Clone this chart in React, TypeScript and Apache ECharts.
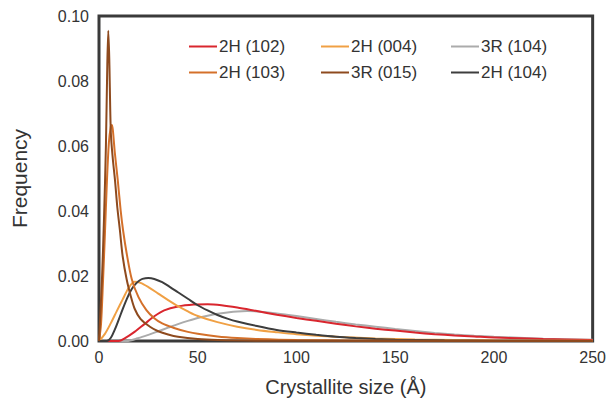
import React, { useEffect, useRef } from "react";
import * as echarts from "echarts";

// Crystallite size distributions: [size (Å), frequency] per reflection
const dist2H102: [number, number][] = [
  [0, 0], [10, 0], [13, 0.0008], [18, 0.0028], [23, 0.0052], [28, 0.0076], [33, 0.0094],
  [40, 0.0106], [48, 0.0112], [55, 0.0113], [62, 0.0110], [70, 0.0103], [80, 0.0092],
  [90, 0.0081], [100, 0.0071], [110, 0.0062], [120, 0.0053], [130, 0.0045], [140, 0.0038],
  [150, 0.0032], [160, 0.0026], [170, 0.0021], [180, 0.0017], [190, 0.0014], [200, 0.0011],
  [225, 0.0006], [250, 0.0003],
];

const dist2H004: [number, number][] = [
  [0, 0], [3, 0.0022], [6, 0.0055], [9, 0.0092], [12, 0.0128], [15, 0.0163], [18, 0.0182],
  [21, 0.0179], [25, 0.0166], [30, 0.0146], [35, 0.0126], [40, 0.0107], [45, 0.0091],
  [50, 0.0077], [60, 0.0058], [70, 0.0044], [80, 0.0034], [90, 0.0027], [100, 0.0021],
  [120, 0.0013], [140, 0.0008], [160, 0.0005], [200, 0.0002], [250, 0.0001],
];

const dist3R104: [number, number][] = [
  [0, 0], [14, 0], [20, 0.0009], [25, 0.0019], [30, 0.0030], [35, 0.0041], [40, 0.0052],
  [45, 0.0062], [50, 0.0071], [55, 0.0078], [60, 0.0084], [65, 0.0088], [70, 0.0091],
  [75, 0.0092], [80, 0.0091], [90, 0.0085], [100, 0.0077], [110, 0.0068], [120, 0.0059],
  [130, 0.0051], [140, 0.0044], [150, 0.0037], [160, 0.0031], [170, 0.0025], [180, 0.0020],
  [190, 0.0016], [200, 0.0013], [225, 0.0007], [250, 0.0004],
];

const dist2H103: [number, number][] = [
  [0, 0], [1, 0.005], [2, 0.018], [3, 0.033], [4, 0.049], [5, 0.061], [6, 0.066], [6.5, 0.0665],
  [7, 0.065], [8, 0.058], [9.5, 0.0495], [11, 0.040], [12.2, 0.034], [14, 0.027], [16.6, 0.019],
  [20, 0.0135], [24, 0.0095], [28, 0.0070], [32, 0.0054], [38, 0.0040], [45, 0.0028],
  [50, 0.0022], [60, 0.0014], [70, 0.0009], [80, 0.0006], [100, 0.0003], [150, 0.0001],
  [250, 0],
];

const dist3R015: [number, number][] = [
  [0, 0], [1.5, 0.019], [2.5, 0.037], [3.5, 0.060], [4.2, 0.085], [4.7, 0.0955], [5.2, 0.087],
  [6, 0.064], [7, 0.056], [8.1, 0.0495], [9.3, 0.041], [10.6, 0.034], [12, 0.026], [14, 0.019],
  [16, 0.014], [18, 0.010], [21, 0.0068], [26, 0.0043], [30, 0.0030], [35, 0.0020],
  [40, 0.0013], [50, 0.0006], [60, 0.0003], [80, 0.0001], [100, 0.00005], [250, 0],
];

const dist2H104: [number, number][] = [
  [0, 0], [4, 0], [6, 0.001], [8, 0.0035], [10, 0.0066], [12, 0.0098], [14, 0.0128],
  [16, 0.0154], [18, 0.0172], [20, 0.0184], [22, 0.0191], [25, 0.0194], [28, 0.0191],
  [32, 0.0181], [36, 0.0166], [40, 0.0150], [45, 0.0130], [50, 0.0110], [55, 0.0094],
  [60, 0.0080], [65, 0.0069], [70, 0.0060], [80, 0.0046], [90, 0.0034], [100, 0.0026],
  [110, 0.0019], [120, 0.0013], [130, 0.0009], [140, 0.0006], [150, 0.0004], [175, 0.0002],
  [200, 0.0001], [250, 0],
];

const seriesNames = ["2H (102)", "2H (004)", "3R (104)", "2H (103)", "3R (015)", "2H (104)"];
const seriesData = [dist2H102, dist2H004, dist3R104, dist2H103, dist3R015, dist2H104];
const seriesColors = ["#d9262e", "#f0a044", "#ababab", "#d4702a", "#8e4a1e", "#3d3d3d"];
// draw order: broad distributions first, sharp peaks on top
const drawOrder = [2, 0, 1, 5, 3, 4];
// legend columns (two entries each) and their left edges
const legendColumns = [
  ["2H (102)", "2H (103)"],
  ["2H (004)", "3R (015)"],
  ["3R (104)", "2H (104)"],
];
const legendLefts = [189, 321, 451];

const FONT = "'Liberation Sans', Arial, sans-serif";
const TEXT = "#333333";

export default function App() {
  const ref = useRef<HTMLDivElement>(null);

  useEffect(() => {
    if (!ref.current) return;
    const chart = echarts.init(ref.current, undefined, { renderer: "svg" });
    chart.setOption({
      animation: false,
      backgroundColor: "#ffffff",
      grid: {
        left: 99,
        right: 16,
        top: 16,
        bottom: 61,
        show: true,
        borderColor: "#3a3a3a",
        borderWidth: 3,
      },
      legend: legendColumns.map((col, i) => ({
        orient: "vertical",
        left: legendLefts[i],
        top: 38,
        padding: 0,
        itemWidth: 28,
        itemHeight: 14,
        itemGap: 9,
        icon: "path://M0,6 L28,6 L28,8 L0,8 Z",
        textStyle: { fontFamily: FONT, fontSize: 17, color: TEXT, padding: [0, 0, 0, -3] },
        data: col,
      })),
      xAxis: {
        type: "value",
        min: 0,
        max: 250,
        interval: 50,
        name: "Crystallite size (Å)",
        nameLocation: "middle",
        nameGap: 36,
        nameTextStyle: { fontFamily: FONT, fontSize: 20, color: TEXT },
        axisLine: { show: false },
        axisTick: { show: false },
        splitLine: { show: false },
        axisLabel: { fontFamily: FONT, fontSize: 16, color: TEXT, margin: 8 },
      },
      yAxis: {
        type: "value",
        min: 0,
        max: 0.1,
        interval: 0.02,
        name: "Frequency",
        nameLocation: "middle",
        nameGap: 69,
        nameTextStyle: { fontFamily: FONT, fontSize: 21, color: TEXT },
        axisLine: { show: false },
        axisTick: { show: false },
        splitLine: { show: false },
        axisLabel: {
          fontFamily: FONT,
          fontSize: 16,
          color: TEXT,
          margin: 10,
          formatter: (v: number) => v.toFixed(2),
        },
      },
      series: drawOrder.map((i) => ({
        name: seriesNames[i],
        type: "line",
        data: seriesData[i],
        symbol: "none",
        smooth: 0.3,
        color: seriesColors[i],
        lineStyle: { width: 2, color: seriesColors[i] },
        z: 2,
      })),
    });
    return () => chart.dispose();
  }, []);

  return (
    <div
      ref={ref}
      style={{ position: "fixed", left: 0, top: 0, width: 609, height: 402, background: "#fff" }}
    />
  );
}
